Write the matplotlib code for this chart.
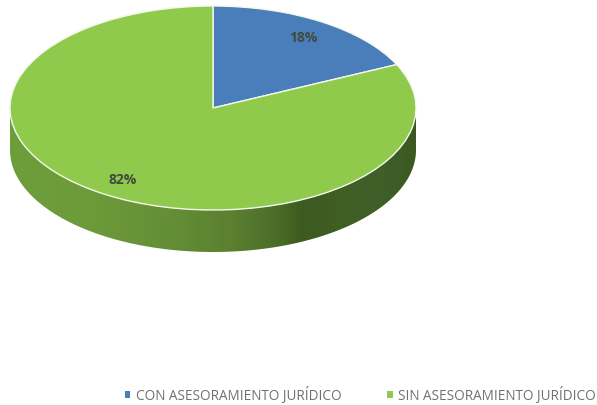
import numpy as np
import matplotlib
matplotlib.use("Agg")
import matplotlib.pyplot as plt
from matplotlib.colors import LinearSegmentedColormap
from matplotlib.patches import Polygon

categories = ["CON ASESORAMIENTO JURÍDICO", "SIN ASESORAMIENTO JURÍDICO"]
values = [18, 82]
colors = ["#4a7ebb", "#8fca4d"]

W, H = 597, 406
cx, cy, rx, ry, depth = 213, 109, 203, 102, 42

fig = plt.figure(figsize=(W / 100, H / 100), dpi=100)
ax = fig.add_axes([0, 0, 1, 1])
xlim = (-cx / rx, (W - cx) / rx)
ylim = (-(H - cy) / ry, cy / ry)

# Side wall of the 3-D pie
d = depth / ry
t = np.linspace(np.pi, 2 * np.pi, 200)
wall = np.r_[np.c_[np.cos(t), np.sin(t) - d], np.c_[np.cos(t[::-1]), np.sin(t[::-1])]]
cmap = LinearSegmentedColormap.from_list(
    "side",
    [(0, "#6d9e3c"), (0.2, "#6d9a3a"), (0.4, "#648e36"), (0.55, "#5a7f30"),
     (0.66, "#4a6c28"), (0.72, "#3d5a20"), (0.8, "#3f5e22"), (0.9, "#40602a"), (1, "#3c5820")],
)
im = ax.imshow(np.linspace(0, 1, 256)[None, :], cmap=cmap, extent=(-1, 1, -1 - d, 0),
               aspect="auto", zorder=1)
clip = Polygon(wall, closed=True, transform=ax.transData, fc="none", ec="none")
ax.add_patch(clip)
im.set_clip_path(clip)

wedges, _, autotexts = ax.pie(
    values, colors=colors, startangle=90, counterclock=False, radius=1,
    autopct="%.0f%%", pctdistance=0.83,
    wedgeprops=dict(edgecolor="#f4f8ec", linewidth=1.0, zorder=2),
    textprops=dict(color="#404a40", fontsize=10, fontweight="bold", family="Open Sans", zorder=3),
)
ax.set_aspect("auto")
ax.set_xlim(xlim)
ax.set_ylim(ylim)
ax.axis("off")

leg = fig.legend(
    wedges, categories, ncol=2, frameon=False, loc="center",
    bbox_to_anchor=(360.5 / W, 1 - 396 / H), handlelength=0.4, handleheight=0.4,
    handletextpad=0.4, columnspacing=3.4, borderpad=0,
    prop=dict(family="Open Sans", size=9.75), labelcolor="#707070",
)
for h in leg.legend_handles:
    h.set_edgecolor("none")

fig.savefig("out.png", dpi=100)
